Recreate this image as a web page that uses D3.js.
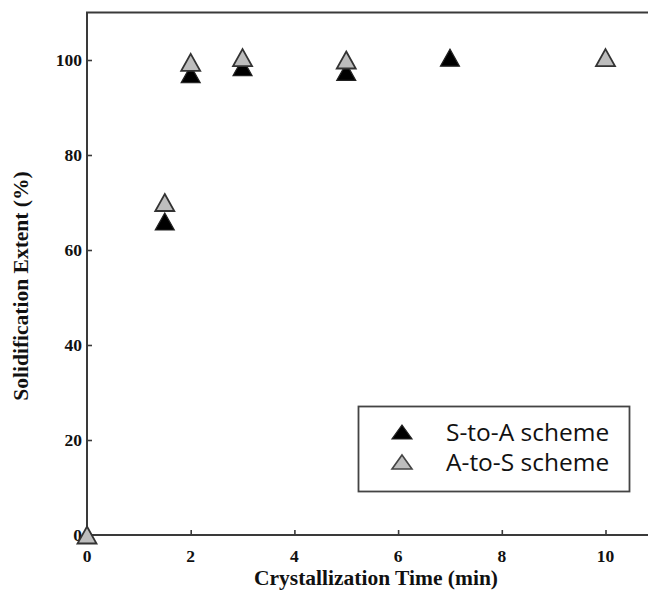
<!DOCTYPE html>
<html>
<head>
<meta charset="utf-8">
<script src="https://cdn.jsdelivr.net/npm/d3@7/dist/d3.min.js"></script>
<style>
  html, body { margin: 0; padding: 0; background: #fff; }
  svg { display: block; }
</style>
</head>
<body>
<svg id="chart" width="648" height="595"></svg>
<script>
// Crystallization time (min) and solidification extent (%) for the two schemes
const sToATime = [1.5, 2, 3, 5, 7];
const sToAExtent = [66, 97, 98.5, 97.5, 100.5];
const aToSTime = [0, 1.5, 2, 3, 5, 10];
const aToSExtent = [0, 70, 99.5, 100.5, 100, 100.5];

const xTicks = [0, 2, 4, 6, 8, 10];
const yTicks = [0, 20, 40, 60, 80, 100];
const seriesNames = ["S-to-A scheme", "A-to-S scheme"];

const svg = d3.select("#chart");
const frameTop = 12.5;

const x = d3.scaleLinear().domain([0, 10]).range([87, 605.5]);
const y = d3.scaleLinear().domain([0, 100]).range([535, 60]);

const axisColor = "#3a3a3a";
const serif = "'Liberation Serif', 'Times New Roman', serif";

// Frame: left axis, top border, bottom axis (extends past right edge)
const frame = svg.append("g").attr("stroke", axisColor).attr("stroke-width", 2).attr("fill", "none");
frame.append("path").attr("d", `M${x(0)},${y(0)}V${frameTop}H660`);
frame.append("path").attr("d", `M${x(0)},${y(0)}H660`);

// Inward tick marks on the x axis
const xAxis = d3.axisTop(x).tickValues(xTicks).tickSize(5).tickFormat("");
svg.append("g").attr("transform", `translate(0,${y(0)})`).call(xAxis)
  .call(g => g.select(".domain").remove())
  .call(g => g.selectAll(".tick line").attr("stroke", axisColor).attr("stroke-width", 1.6))
  .call(g => g.selectAll(".tick").filter(d => d === 0).remove());

// Inward tick marks on the y axis
const yAxis = d3.axisRight(y).tickValues(yTicks).tickSize(5).tickFormat("");
svg.append("g").attr("transform", `translate(${x(0)},0)`).call(yAxis)
  .call(g => g.select(".domain").remove())
  .call(g => g.selectAll(".tick line").attr("stroke", axisColor).attr("stroke-width", 1.6))
  .call(g => g.selectAll(".tick").filter(d => d === 0).remove());

// Tick labels
svg.append("g").selectAll("text").data(xTicks).join("text")
  .attr("x", d => x(d)).attr("y", y(0) + 27)
  .attr("text-anchor", "middle")
  .attr("font-family", serif).attr("font-weight", "bold").attr("font-size", 17.5)
  .attr("fill", "#111")
  .text(d => d);

svg.append("g").selectAll("text").data(yTicks).join("text")
  .attr("x", x(0) - 5).attr("y", d => y(d) + 6)
  .attr("text-anchor", "end")
  .attr("font-family", serif).attr("font-weight", "bold").attr("font-size", 17.5)
  .attr("fill", "#111")
  .text(d => d);

// Axis titles
svg.append("text")
  .attr("x", 376).attr("y", 585)
  .attr("text-anchor", "middle")
  .attr("font-family", serif).attr("font-weight", "bold").attr("font-size", 21.5)
  .attr("fill", "#111")
  .text("Crystallization Time (min)");

svg.append("text")
  .attr("transform", `translate(28,286) rotate(-90)`)
  .attr("text-anchor", "middle")
  .attr("font-family", serif).attr("font-weight", "bold").attr("font-size", 21.5)
  .attr("fill", "#111")
  .text("Solidification Extent (%)");

// Triangle marker centred on its bounding box
function tri(w, h) {
  return `M0,${-h / 2}L${w / 2},${h / 2}L${-w / 2},${h / 2}Z`;
}

const sToA = sToATime.map((t, i) => ({ t, v: sToAExtent[i] }));
const aToS = aToSTime.map((t, i) => ({ t, v: aToSExtent[i] }));

svg.append("g").selectAll("path").data(sToA).join("path")
  .attr("transform", d => `translate(${x(d.t)},${y(d.v)})`)
  .attr("d", tri(19, 17))
  .attr("fill", "#000").attr("stroke", "#222").attr("stroke-width", 1.2)
  .attr("stroke-linejoin", "miter");

svg.append("g").selectAll("path").data(aToS).join("path")
  .attr("transform", d => `translate(${x(d.t)},${y(d.v)})`)
  .attr("d", tri(19, 17))
  .attr("fill", "#bdbdbd").attr("stroke", "#333").attr("stroke-width", 1.8)
  .attr("stroke-linejoin", "miter");

// Legend
const legend = svg.append("g");
legend.append("rect")
  .attr("x", 358.5).attr("y", 406.5).attr("width", 271).attr("height", 85)
  .attr("fill", "#fff").attr("stroke", "#444").attr("stroke-width", 1.8);

const legendRows = [
  { name: seriesNames[0], fill: "#000", stroke: "#222", sw: 1.2 },
  { name: seriesNames[1], fill: "#bdbdbd", stroke: "#444", sw: 1.6 }
];
legendRows.forEach((r, i) => {
  const cy = 432 + i * 30;
  legend.append("path")
    .attr("transform", `translate(402,${cy})`)
    .attr("d", tri(20, 14))
    .attr("fill", r.fill).attr("stroke", r.stroke).attr("stroke-width", r.sw);
  legend.append("text")
    .attr("x", 446).attr("y", cy + 9)
    .attr("font-family", "'Open Sans', sans-serif").attr("font-size", 24.5)
    .attr("fill", "#111")
    .text(r.name);
});
</script>
</body>
</html>
